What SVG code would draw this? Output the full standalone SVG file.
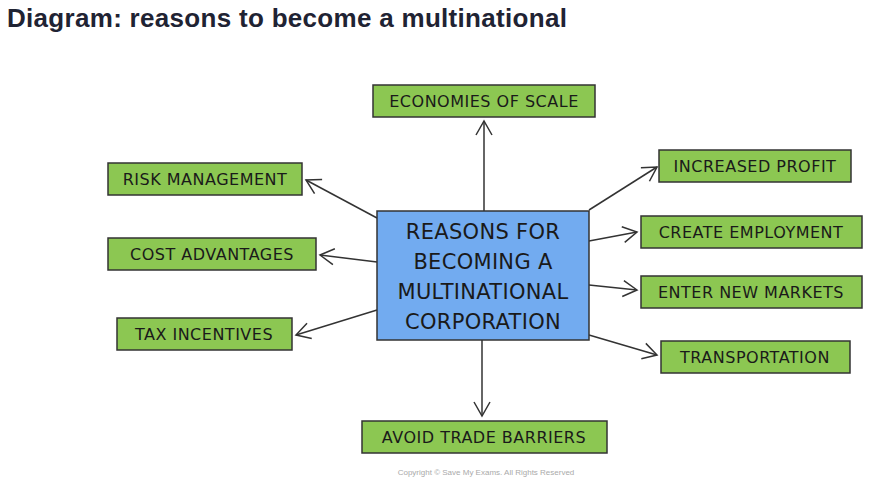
<svg xmlns="http://www.w3.org/2000/svg" width="891" height="492" viewBox="0 0 891 492">
<style>
.t{font-family:"Liberation Sans",Arial,sans-serif;font-weight:bold;font-size:26px;fill:#1f2333;letter-spacing:0.3px}
.b rect{fill:#8cc752;stroke:#333;stroke-width:1.5}
.b text{font-family:"DejaVu Sans",sans-serif;font-size:16px;fill:#1a1a1a;text-anchor:middle;letter-spacing:0.5px}
.c rect{fill:#72abf0;stroke:#333;stroke-width:1.5}
.c text{font-family:"DejaVu Sans",sans-serif;font-size:21px;fill:#1a1a1a;text-anchor:middle;letter-spacing:0.3px}
.k line{stroke:#333;stroke-width:1.5;marker-end:url(#a)}
</style>
<defs><marker id="a" viewBox="0 0 20 20" refX="18" refY="10" markerWidth="20" markerHeight="20" markerUnits="userSpaceOnUse" orient="auto"><path d="M4 2L18 10L4 18" fill="none" stroke="#333" stroke-width="1.5"/></marker></defs>
<rect width="891" height="492" fill="#fff"/>
<text class="t" x="7" y="27">Diagram: reasons to become a multinational</text>
<g class="k">
<line x1="484" y1="211" x2="484" y2="121"/>
<line x1="377" y1="218" x2="306" y2="180"/>
<line x1="377" y1="262" x2="320" y2="255"/>
<line x1="377" y1="310" x2="296" y2="335"/>
<line x1="589" y1="210" x2="657" y2="167"/>
<line x1="589" y1="241" x2="637" y2="232"/>
<line x1="589" y1="285" x2="637" y2="290"/>
<line x1="589" y1="335" x2="657" y2="355"/>
<line x1="482" y1="340" x2="482" y2="416"/>
</g>
<g id="center" class="c"><rect x="377" y="211" width="212" height="129"/>
<text x="483" y="239">REASONS FOR</text><text x="483" y="269">BECOMING A</text><text x="483" y="299">MULTINATIONAL</text><text x="483" y="329">CORPORATION</text></g>
<g id="n1" class="b"><rect x="373" y="85" width="222" height="32"/><text x="484" y="107">ECONOMIES OF SCALE</text></g>
<g id="n2" class="b"><rect x="108" y="163" width="194" height="32"/><text x="205" y="185">RISK MANAGEMENT</text></g>
<g id="n3" class="b"><rect x="108" y="238" width="208" height="32"/><text x="212" y="260">COST ADVANTAGES</text></g>
<g id="n4" class="b"><rect x="117" y="318" width="175" height="32"/><text x="204" y="340">TAX INCENTIVES</text></g>
<g id="n5" class="b"><rect x="659" y="150" width="192" height="32"/><text x="755" y="172">INCREASED PROFIT</text></g>
<g id="n6" class="b"><rect x="641" y="216" width="221" height="32"/><text x="751" y="238">CREATE EMPLOYMENT</text></g>
<g id="n7" class="b"><rect x="641" y="276" width="221" height="32"/><text x="751" y="298">ENTER NEW MARKETS</text></g>
<g id="n8" class="b"><rect x="661" y="341" width="189" height="32"/><text x="755" y="363">TRANSPORTATION</text></g>
<g id="n9" class="b"><rect x="362" y="421" width="245" height="32"/><text x="484" y="443">AVOID TRADE BARRIERS</text></g>
<text x="486" y="475" font-family="Liberation Sans,sans-serif" font-size="8" fill="#aaa" text-anchor="middle">Copyright © Save My Exams. All Rights Reserved</text>
</svg>
